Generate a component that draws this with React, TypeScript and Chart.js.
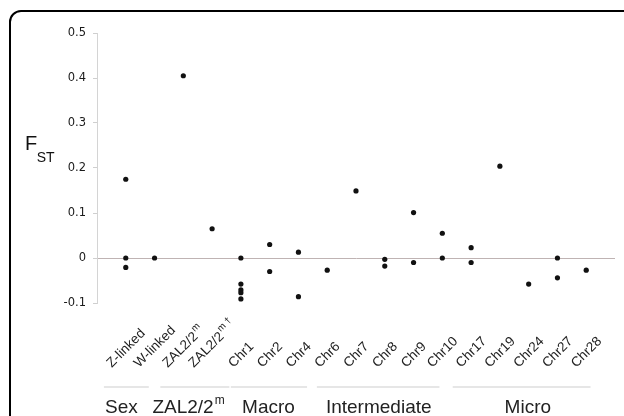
import React, { useEffect, useRef } from 'react';
import { Chart, registerables } from 'chart.js';

Chart.register(...registerables);

// ---- data ----
const categories = [
  'Z-linked', 'W-linked', 'ZAL2/2', 'ZAL2/2', 'Chr1', 'Chr2', 'Chr4', 'Chr6', 'Chr7',
  'Chr8', 'Chr9', 'Chr10', 'Chr17', 'Chr19', 'Chr24', 'Chr27', 'Chr28',
];
const categorySup = ['', '', 'm', 'm †', '', '', '', '', '', '', '', '', '', '', '', '', ''];
const fstValues: number[][] = [
  [0.175, 0, -0.021],
  [0],
  [0.405],
  [0.065],
  [0, -0.058, -0.071, -0.077, -0.091],
  [0.03, -0.03],
  [0.013, -0.086],
  [-0.027],
  [0.149],
  [-0.003, -0.018],
  [0.101, -0.01],
  [0.055, 0],
  [0.023, -0.01],
  [0.204],
  [-0.058],
  [0, -0.044],
  [-0.027],
];
const yTicks = [-0.1, 0, 0.1, 0.2, 0.3, 0.4, 0.5];
const groupNames = ['Sex', 'ZAL2/2', 'Macro', 'Intermediate', 'Micro'];
const groupSup = ['', 'm', '', '', ''];
// ---- layout (in x-scale units) ----
const groupLineFrom = [0.24, 2.2, 4.65, 7.64, 12.36];
const groupLineTo = [1.8, 4.6, 7.3, 11.9, 17.15];
const groupTextCenter = [0.85, 3.18, 5.96, 9.79, 14.97];

const FONT = '"Liberation Sans", Arial, sans-serif';

const labelPlugin = {
  id: 'labelsAndGroups',
  afterDraw(chart: any) {
    const ctx = chart.ctx as CanvasRenderingContext2D;
    const xs = chart.scales.x;
    const ys = chart.scales.y;
    ctx.save();
    // rotated category labels
    ctx.fillStyle = '#222';
    ctx.textAlign = 'left';
    ctx.textBaseline = 'alphabetic';
    categories.forEach((lab, i) => {
      ctx.font = `13.5px ${FONT}`;
      const wm = ctx.measureText(lab).width;
      ctx.font = `9.5px ${FONT}`;
      const sup = categorySup[i];
      const ws = sup ? ctx.measureText(sup).width + 1 : 0;
      const L = wm + ws;
      const t = xs.getPixelForValue(i + 1);
      const sx = t + 3 - 0.354 * L;
      const sy = ys.bottom + 65;
      ctx.save();
      ctx.translate(sx, sy);
      ctx.rotate(-Math.PI / 4);
      ctx.font = `13.5px ${FONT}`;
      ctx.fillText(lab, 0, 0);
      if (sup) {
        ctx.font = `9.5px ${FONT}`;
        ctx.fillText(sup, wm + 1, -6.5);
      }
      ctx.restore();
    });
    // group separator lines
    ctx.strokeStyle = '#dedede';
    ctx.lineWidth = 1.5;
    const lineY = ys.bottom + 84;
    groupLineFrom.forEach((f, i) => {
      ctx.beginPath();
      ctx.moveTo(xs.getPixelForValue(f), lineY);
      ctx.lineTo(xs.getPixelForValue(groupLineTo[i]), lineY);
      ctx.stroke();
    });
    // group labels
    const baseY = ys.bottom + 110;
    ctx.fillStyle = '#222';
    groupNames.forEach((name, i) => {
      ctx.font = `19px ${FONT}`;
      const w = ctx.measureText(name).width;
      ctx.font = `12px ${FONT}`;
      const ws = groupSup[i] ? ctx.measureText(groupSup[i]).width + 1 : 0;
      const cx = xs.getPixelForValue(groupTextCenter[i]);
      const x0 = cx - (w + ws) / 2;
      ctx.font = `19px ${FONT}`;
      ctx.fillText(name, x0, baseY);
      if (groupSup[i]) {
        ctx.font = `12px ${FONT}`;
        ctx.fillText(groupSup[i], x0 + w + 1, baseY - 9);
      }
    });
    // F_ST axis title
    const tx = chart.chartArea.left - 72;
    const ty = ys.getPixelForValue(0.24);
    ctx.fillStyle = '#111';
    ctx.font = `20px ${FONT}`;
    ctx.fillText('F', tx, ty);
    const fw = ctx.measureText('F').width;
    ctx.font = `14px ${FONT}`;
    ctx.fillText('ST', tx + fw - 0.5, ty + 12);
    ctx.restore();
  },
};

export default function App() {
  const ref = useRef<HTMLCanvasElement>(null);
  useEffect(() => {
    const points = fstValues.flatMap((vals, i) => vals.map((v) => ({ x: i + 1, y: v })));
    const chart = new Chart(ref.current as HTMLCanvasElement, {
      type: 'scatter',
      data: {
        datasets: [
          {
            data: points,
            pointRadius: 2.6,
            pointHoverRadius: 2.6,
            pointBackgroundColor: '#111',
            pointBorderWidth: 0,
          },
        ],
      },
      options: {
        responsive: false,
        animation: false,
        events: [],
        layout: { padding: { left: 0, top: 33, right: 9, bottom: 0 } },
        plugins: { legend: { display: false }, tooltip: { enabled: false } },
        scales: {
          x: {
            type: 'linear',
            min: 0,
            max: categories.length + 1,
            afterBuildTicks: (s: any) => {
              s.ticks = categories.map((_, i) => ({ value: i + 1 }));
            },
            afterFit: (s: any) => {
              s.height = 113;
            },
            grid: { display: false, drawTicks: false },
            border: { display: false },
            ticks: { display: false },
          },
          y: {
            min: -0.1,
            max: 0.5,
            afterBuildTicks: (s: any) => {
              s.ticks = yTicks.map((v) => ({ value: v }));
            },
            afterFit: (s: any) => {
              s.width = 97;
            },
            grid: {
              drawOnChartArea: true,
              color: (c: any) => (c.tick && c.tick.value === 0 ? '#bfb3b3' : 'rgba(0,0,0,0)'),
              tickColor: '#cfcfcf',
              tickLength: 4,
              lineWidth: 1,
            },
            border: { display: true, color: '#d4d4d4' },
            ticks: {
              padding: 7,
              color: '#1a1a1a',
              font: { family: '"DejaVu Sans", sans-serif', size: 11.5 },
              callback: (v: any) => {
                const n = Math.round(Number(v) * 10) / 10;
                return n === 0 ? '0' : String(n);
              },
            },
          },
        },
      },
      plugins: [labelPlugin],
    } as any);
    return () => chart.destroy();
  }, []);

  return (
    <div
      style={{
        position: 'fixed',
        left: 0,
        top: 0,
        width: 624,
        height: 416,
        overflow: 'hidden',
        background: '#fff',
      }}
    >
      <canvas ref={ref} width={624} height={416} style={{ position: 'absolute', left: 0, top: 0 }} />
      <div
        style={{
          position: 'absolute',
          left: 9,
          top: 10,
          width: 900,
          height: 700,
          border: '2px solid #000',
          borderTopLeftRadius: 12,
          pointerEvents: 'none',
        }}
      />
    </div>
  );
}
